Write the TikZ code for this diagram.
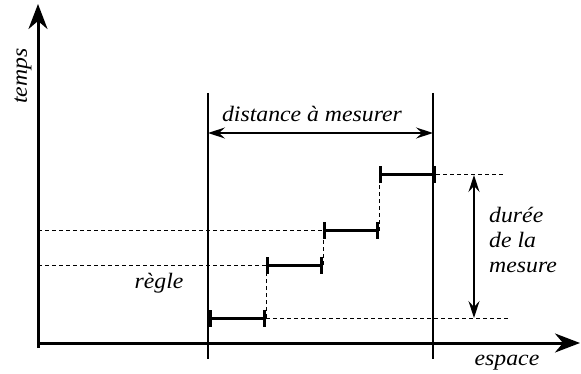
\documentclass[tikz,border=0pt]{standalone}
\usepackage{fontspec}
\setmainfont{Liberation Serif}
\newfontfamily\labfont[FakeStretch=1.08]{Liberation Serif}
\usetikzlibrary{arrows.meta}
\begin{document}
\begin{tikzpicture}[x=1pt,y=-1pt,
  axis/.style={line width=3pt,-{Stealth[length=25pt,width=19pt,inset=8pt]}},
  guide/.style={line width=1.4pt},
  dim/.style={line width=1.5pt,{Stealth[length=17pt,width=11pt,inset=6pt]}-{Stealth[length=17pt,width=11pt,inset=6pt]}},
  rod/.style={line width=3pt,{Bar[width=17pt,line width=2.6pt]}-{Bar[width=17pt,line width=2.6pt]}},
  help/.style={line width=1pt,dash pattern=on 4pt off 3pt},
  lab/.style={font=\labfont\fontsize{22}{25}\selectfont\itshape,inner sep=0pt}]
\useasboundingbox (0,0) rectangle (581,374);
% axes
\coordinate (O) at (38,343);
\coordinate (Ybot) at (38,348);
\coordinate (Ytip) at (38,4);
\coordinate (Xtip) at (580,343);
\draw[axis] (Ybot) -- (Ytip);
\draw[axis] (O) -- (Xtip);
% guide verticals
\coordinate (Ltop) at (208,93);
\coordinate (Lbot) at (208,359);
\coordinate (Rtop) at (433,93);
\coordinate (Rbot) at (433,359);
\draw[guide] (Ltop) -- (Lbot);
\draw[guide] (Rtop) -- (Rbot);
% distance arrow
\coordinate (Da) at (208,133);
\coordinate (Db) at (433,133);
\draw[dim] (Da) -- (Db);
\node[lab,anchor=base] (dist) at (312,122) {distance à mesurer};
% rod positions
\coordinate (A0) at (209,318);
\coordinate (A1) at (266,318);
\coordinate (B0) at (266,265);
\coordinate (B1) at (323,265);
\coordinate (C0) at (323,231);
\coordinate (C1) at (379,231);
\coordinate (D0) at (379,175);
\coordinate (D1) at (436,175);
% dashed helpers
\coordinate (Yb) at (38,265);
\coordinate (Yc) at (38,231);
\coordinate (Ea) at (508,318);
\coordinate (Ed) at (505,175);
\draw[help] (Yb) -- (B0);
\draw[help] (Yc) -- (C0);
\draw[help] (A1) -- (Ea);
\draw[help] (D1) -- (Ed);
\draw[help] (A1) -- (B0);
\draw[help] (B1) -- (C0);
\draw[help] (C1) -- (D0);
% rods
\draw[rod] (A0) -- (A1);
\draw[rod] (B0) -- (B1);
\draw[rod] (C0) -- (C1);
\draw[rod] (D0) -- (D1);
% duration arrow
\coordinate (Ta) at (474,175);
\coordinate (Tb) at (474,318);
\draw[dim] (Ta) -- (Tb);
\node[lab,align=left,anchor=north west] (dur) at (489,207) {durée\\de la\\mesure};
% labels
\node[lab,anchor=base] (regle) at (159,288) {règle};
\node[lab,anchor=base] (esp) at (507,365) {espace};
\node[lab,rotate=90,anchor=base] (tps) at (27,76) {temps};
\end{tikzpicture}
\end{document}
